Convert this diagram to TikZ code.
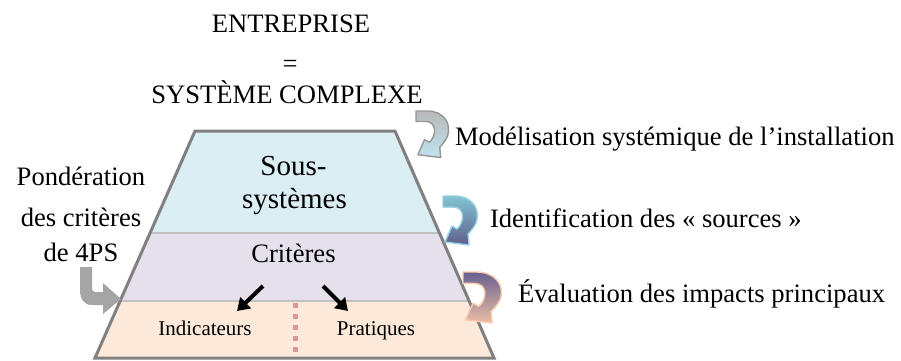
\documentclass[tikz,border=0pt]{standalone}
\usepackage{fontspec}
\setmainfont{Liberation Serif}
\usetikzlibrary{arrows.meta}
\definecolor{bandblue}{RGB}{218,238,243}
\definecolor{bandpurple}{RGB}{229,224,236}
\definecolor{bandorange}{RGB}{253,233,217}
\definecolor{edgegray}{RGB}{128,128,128}
\definecolor{sepgray}{RGB}{192,192,192}
\definecolor{dotpink}{RGB}{222,150,150}
\definecolor{bentgray}{RGB}{165,165,165}
\definecolor{aoneline}{RGB}{150,150,150}
\definecolor{aonetop}{RGB}{185,185,185}
\definecolor{aonebot}{RGB}{190,228,238}
\definecolor{atwoline}{RGB}{150,210,225}
\definecolor{atwotop}{RGB}{130,195,210}
\definecolor{atwobot}{RGB}{95,95,140}
\definecolor{athreeline}{RGB}{250,205,175}
\definecolor{athreetop}{RGB}{105,95,145}
\definecolor{athreebot}{RGB}{235,190,165}
\newcommand{\cvarrowpath}{(0,0) -- (12,0) .. controls (28,0) and (38,12) .. (33,27) .. controls (31,31) and (28,35) .. (25,38) -- (26,49) -- (2,46) -- (9,30) -- (14,33) .. controls (22,26) and (22,11) .. (10,11) -- (0,11) -- cycle}
\begin{document}
\begin{tikzpicture}[x=0.5pt,y=-0.5pt,
  every node/.style={inner sep=0pt, outer sep=0pt},
  lbl/.style={font=\fontsize{13.3}{16}\selectfont, anchor=base west},
  ctr/.style={font=\fontsize{13.3}{16}\selectfont, anchor=base},
  small/.style={font=\fontsize{10.5}{12}\selectfont, anchor=base},
  big/.style={font=\fontsize{14.5}{17}\selectfont, anchor=base},
  ptr/.style={line width=2pt, -{Triangle[length=6pt,width=7.5pt]}},
  sep/.style={draw=sepgray, line width=1pt},
  cvarrow/.style={line width=0.7pt, line join=round}]
\useasboundingbox (0,0) rectangle (901,360);

% trapezoid bands
\begin{scope}
  \clip (195,131) -- (395,131) -- (494,358) -- (95,358) -- cycle;
  \fill[bandblue] (0,131) rectangle (901,233);
  \fill[bandpurple] (0,233) rectangle (901,301);
  \fill[bandorange] (0,301) rectangle (901,360);
  \draw[sep] (0,233) -- (901,233);
  \draw[sep] (0,301) -- (901,301);
\end{scope}
\draw[edgegray, line width=1.5pt, line join=miter] (195,131) -- (395,131) -- (494,358) -- (95,358) -- cycle;

% dotted divider
\coordinate (dtop) at (295,303);
\coordinate (dbot) at (295,357);
\draw[dotpink, line width=2.5pt, dash pattern=on 2.5pt off 3pt] (dtop) -- (dbot);

% titles
\node[ctr] (ent) at (291,32) {ENTREPRISE};
\node[ctr] (eq) at (290,72) {=};
\node[ctr] (sys) at (287,103) {SYSTÈME COMPLEXE};

% band texts
\node[big] (sous) at (293.5,175) {Sous-};
\node[big] (systemes) at (294.5,208) {systèmes};
\node[ctr] (crit) at (293.5,262) {Critères};
\node[small] (ind) at (205,335) {Indicateurs};
\node[small] (prat) at (376,335) {Pratiques};

% black arrows
\coordinate (la) at (263,286);
\coordinate (lb) at (237,311);
\coordinate (ra) at (323,286);
\coordinate (rb) at (348,311);
\draw[ptr] (la) -- (lb);
\draw[ptr] (ra) -- (rb);

% left text
\node[ctr] (pond1) at (81,185) {Pondération};
\node[ctr] (pond2) at (81,226) {des critères};
\node[ctr] (pond3) at (81,261) {de 4PS};

% bent arrow
\fill[bentgray] (80,267) -- (80,290) .. controls (80,299) and (84,305) .. (92,305) -- (103,305) -- (103,314) -- (121,299) -- (103,283) -- (103,292) -- (95,292) .. controls (93,292) and (92,290) .. (92,288) -- (92,267) -- cycle;

% right labels
\node[lbl] (mod) at (455,145) {Modélisation systémique de l’installation};
\node[lbl] (ident) at (490,227) {Identification des «~sources~»};
\node[lbl] (eval) at (518,302) {Évaluation des impacts principaux};

% curved arrows
\begin{scope}[shift={(416,111)}, scale=0.95]
  \filldraw[cvarrow, draw=aoneline, top color=aonetop, bottom color=aonebot] \cvarrowpath;
\end{scope}
\begin{scope}[shift={(443,196)}]
  \filldraw[cvarrow, draw=atwoline, top color=atwotop, bottom color=atwobot] \cvarrowpath;
\end{scope}
\begin{scope}[shift={(463,272)}, xscale=1.12, yscale=1.04]
  \filldraw[cvarrow, draw=athreeline, top color=athreetop, bottom color=athreebot] \cvarrowpath;
\end{scope}
\end{tikzpicture}
\end{document}
